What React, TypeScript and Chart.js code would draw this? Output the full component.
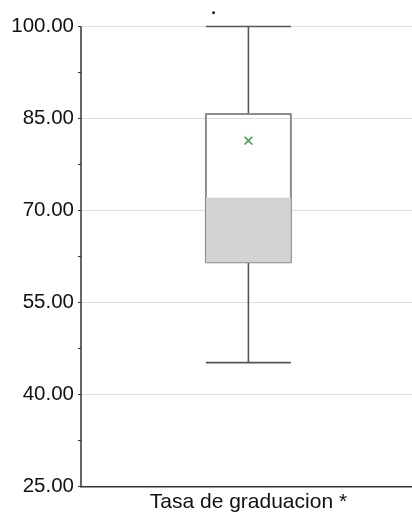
import React, { useEffect, useRef } from "react";
import { Chart, registerables } from "chart.js";

Chart.register(...registerables);

const category = "Tasa de graduacion *";
const yTicks = [25, 40, 55, 70, 85, 100];
const boxMin = 45.2;
const boxQ1 = 61.55;
const boxMedian = 72.1;
const boxQ3 = 85.73;
const boxMax = 100;
const boxMean = 81.4;
const outlierValues = [102.25];

export default function App() {
  const ref = useRef<HTMLCanvasElement>(null);
  useEffect(() => {
    document.body.style.margin = "0";
    const canvas = ref.current!;
    const half = 1;
    const xMin = -3.94;
    const xMax = 3.85;
    const yMin = yTicks[0];
    const yTop = yTicks[yTicks.length - 1];
    const font = { family: "Arial, 'Liberation Sans', sans-serif", size: 20.5 };
    const xFont = { family: "Arial, 'Liberation Sans', sans-serif", size: 21 };
    const chart = new Chart(canvas, {
      type: "scatter",
      data: {
        datasets: [
          // shaded lower half (Q1..median)
          {
            data: [
              { x: -half, y: boxMedian },
              { x: half, y: boxMedian },
            ],
            showLine: true,
            borderWidth: 0,
            borderColor: "rgba(0,0,0,0)",
            pointRadius: 0,
            fill: "+1",
            backgroundColor: "#d3d3d3",
          },
          {
            data: [
              { x: -half, y: boxQ1 },
              { x: half, y: boxQ1 },
            ],
            showLine: true,
            borderWidth: 0,
            borderColor: "rgba(0,0,0,0)",
            pointRadius: 0,
            fill: false,
          },
          // box outline
          {
            data: [
              { x: -half, y: boxQ1 },
              { x: half, y: boxQ1 },
              { x: half, y: boxQ3 },
              { x: -half, y: boxQ3 },
              { x: -half, y: boxQ1 },
            ],
            showLine: true,
            borderColor: "#8c8c8c",
            borderWidth: 2,
            borderJoinStyle: "round",
            pointRadius: 0,
            fill: false,
          },
          // whiskers
          {
            data: [
              { x: 0, y: boxQ3 },
              { x: 0, y: boxMax },
              { x: NaN, y: NaN },
              { x: -half, y: boxMax },
              { x: half, y: boxMax },
              { x: NaN, y: NaN },
              { x: 0, y: boxQ1 },
              { x: 0, y: boxMin },
              { x: NaN, y: NaN },
              { x: -half, y: boxMin },
              { x: half, y: boxMin },
            ],
            showLine: true,
            spanGaps: false,
            borderColor: "#555555",
            borderWidth: 1.6,
            pointRadius: 0,
            fill: false,
          },
          // y axis line (from 25 to 100 only)
          {
            data: [
              { x: xMin, y: yMin },
              { x: xMin, y: yTop },
            ],
            showLine: true,
            borderColor: "#333",
            borderWidth: 1.5,
            pointRadius: 0,
            fill: false,
            clip: false as any,
          },
          // mean
          {
            data: [{ x: 0, y: boxMean }],
            pointStyle: "crossRot",
            pointRadius: 5.5,
            borderColor: "#3c9e3c",
            borderWidth: 1.5,
            showLine: false,
          },
          // outlier
          {
            data: outlierValues.map((v) => ({ x: -0.82, y: v })),
            pointStyle: "circle",
            pointRadius: 1.4,
            backgroundColor: "#111",
            borderColor: "#111",
            borderWidth: 0,
            showLine: false,
          },
        ],
      },
      options: {
        animation: false,
        responsive: false,
        layout: { autoPadding: false, padding: { top: 2, left: 0, right: 0, bottom: 0 } },
        plugins: { legend: { display: false }, tooltip: { enabled: false } },
        scales: {
          x: {
            type: "linear",
            min: xMin,
            max: xMax,
            grid: { display: false, drawTicks: false, tickLength: 0 },
            border: { display: true, color: "#333", width: 1.5 },
            afterBuildTicks: (s: any) => {
              s.ticks = [{ value: 0 }];
            },
            afterFit: (s: any) => {
              s.height = 27.5;
              s.paddingLeft = 0;
              s.paddingRight = 0;
            },
            ticks: {
              autoSkip: false,
              maxRotation: 0,
              padding: 3,
              color: "#111",
              font: xFont,
              callback: () => category,
            },
          },
          y: {
            type: "linear",
            min: yMin,
            max: 104,
            afterBuildTicks: (s: any) => {
              const t: any[] = [];
              for (let i = 0; i < yTicks.length; i++) {
                t.push({ value: yTicks[i] });
                if (i < yTicks.length - 1) t.push({ value: (yTicks[i] + yTicks[i + 1]) / 2 });
              }
              s.ticks = t;
            },
            afterFit: (s: any) => {
              s.width = 81;
              s.paddingTop = 0;
              s.paddingBottom = 0;
            },
            grid: {
              color: (c: any) => (yTicks.includes(c.tick?.value) && c.tick?.value !== 25 ? "#dedede" : "rgba(0,0,0,0)"),
              tickColor: "#333",
              tickLength: (c: any) => (yTicks.includes(c.tick?.value) ? 4.5 : 3),
              lineWidth: 1,
            } as any,
            border: { display: false },
            ticks: {
              autoSkip: false,
              padding: 4,
              color: "#111",
              font,
              callback: (v: any) => (yTicks.includes(Number(v)) ? Number(v).toFixed(2) : ""),
            },
          },
        },
      },
    });
    return () => chart.destroy();
  }, []);
  return (
    <div style={{ width: 412, height: 514 }}>
      <canvas ref={ref} width={412} height={514} style={{ display: "block" }} />
    </div>
  );
}
